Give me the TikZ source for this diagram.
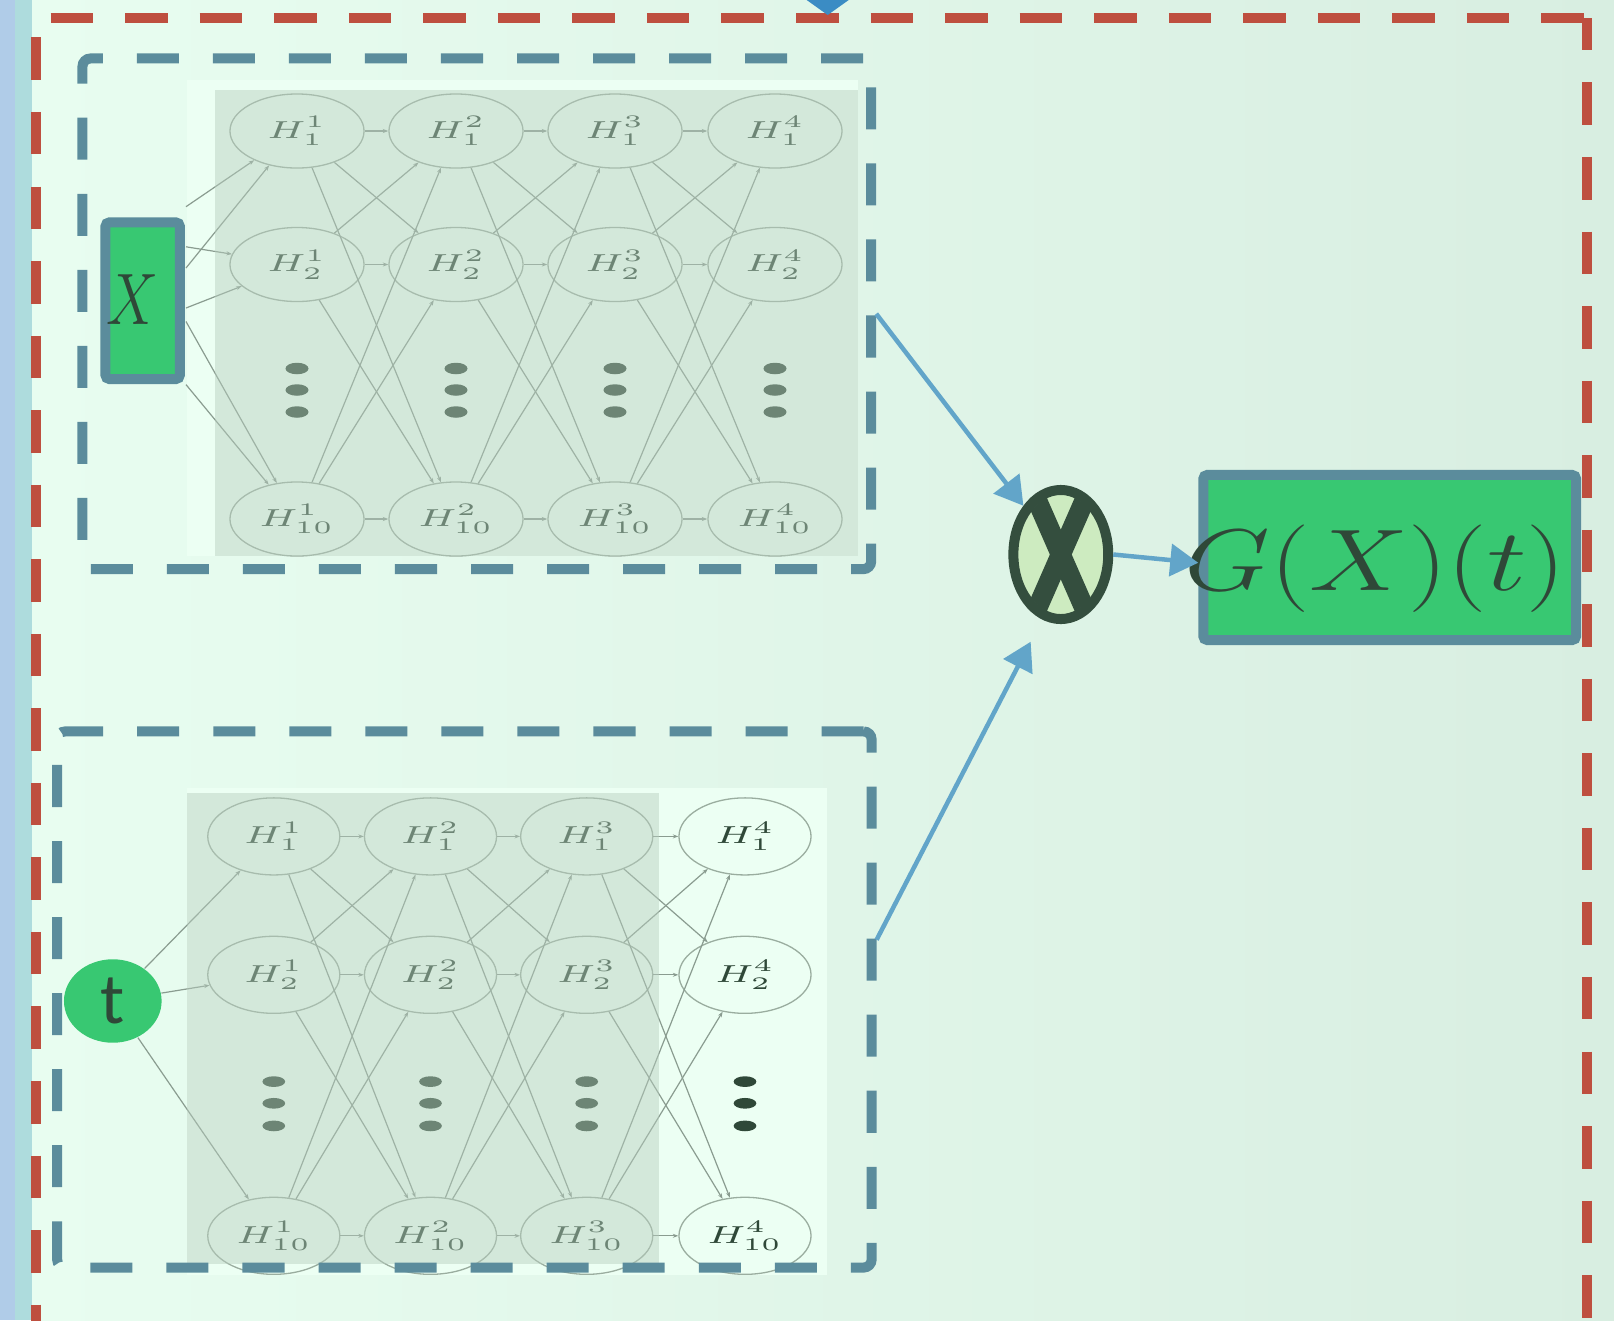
\documentclass[tikz,border=0pt]{standalone}
\usepackage{fontspec}
\newfontfamily\labelsans{Carlito}
\usetikzlibrary{shapes.geometric,arrows.meta,calc}

\definecolor{bgL}{HTML}{E8FDF0}
\definecolor{bgR}{HTML}{D8EEE1}
\definecolor{stripblue}{HTML}{B0CCE8}
\definecolor{stripteal}{HTML}{AEDCDD}
\definecolor{framered}{HTML}{BE4F3F}
\definecolor{boxblue}{HTML}{5B8C9C}
\definecolor{arrowblue}{HTML}{62A5C9}
\definecolor{tipblue}{HTML}{3B8CC4}
\definecolor{leaf}{HTML}{38C872}
\definecolor{ink}{HTML}{2F4838}
\definecolor{netbase}{HTML}{ECFFF3}
\definecolor{netveil}{HTML}{B7CEBE}
\definecolor{netline}{HTML}{8A9C90}
\definecolor{netring}{HTML}{9AAD9F}
\definecolor{multfill}{HTML}{CDEBC0}
\definecolor{multink}{HTML}{344E3E}

% neuron label, widened like the stretched network sketch
\newcommand\hlab[2]{\scalebox{1.55}[1]{$H^{#1}_{#2}$}}

\tikzset{
  neuronA/.style={ellipse, draw=netring, line width=0.13mm, minimum width=13.4mm,
    minimum height=7.4mm, inner sep=0pt, text=ink, font=\fontsize{7pt}{8pt}\selectfont},
  neuronB/.style={neuronA, minimum width=13.2mm, minimum height=7.7mm},
  dotA/.style={ellipse, fill=ink, minimum width=2.3mm, minimum height=1.15mm, inner sep=0pt},
  dotB/.style={dotA, minimum width=2.27mm, minimum height=1.07mm},
  link/.style={draw=netline, line width=0.12mm, -{Stealth[length=0.55mm,width=0.4mm]}},
  groupbox/.style={draw=boxblue, line width=1mm, dash pattern=on 4.2mm off 3.4mm,
    rounded corners=0.8mm, inner sep=0pt},
  redframe/.style={draw=framered, line width=1mm, dash pattern=on 4.25mm off 3.2mm},
  flow/.style={draw=arrowblue, line width=0.45mm, -{Triangle[length=2.8mm,width=3.2mm]}},
  leafbox/.style={draw=boxblue, fill=leaf, line width=1mm, rounded corners=0.4mm, inner sep=0pt},
  veil/.style={fill=netveil, fill opacity=0.46},
}

\begin{document}
\begin{tikzpicture}[x=0.01cm, y=-0.01cm]
\useasboundingbox (0,0) rectangle (1614,1320);
\clip (0,0) rectangle (1614,1320);

% page background and side strips
\shade[left color=bgL, right color=bgR] (32,0) rectangle (1614,1320);
\fill[stripblue] (0,0) rectangle (15,1320);
\fill[stripteal] (15,0) rectangle (32,1320);

% light panels behind the two networks
\fill[netbase] (186.6,80) rectangle (858,556);
\fill[netbase] (186.6,788) rectangle (826.6,1275);

% inputs
\node[leafbox, minimum width=7.43mm, minimum height=15.66mm] (xbox) at (142.65,300.7) {};
\node[text=ink, inner sep=0pt] (xlab) at (133,299.5)
  {\fontsize{20pt}{22pt}\selectfont\scalebox{0.8}[1]{$X$}};
\node[ellipse, fill=leaf, minimum width=9.76mm, minimum height=8.34mm, inner sep=0pt,
  text=ink, font=\labelsans\fontsize{20.5pt}{24pt}\selectfont] (t) at (112.8,1001) {t};

% upper network
\foreach \c/\x in {1/297,2/456,3/615,4/775}{
  \foreach \r/\y in {1/131,2/264.5,10/519}{
    \node[neuronA] (u\c-\r) at (\x,\y) {\hlab{\c}{\r}};
  }
  \foreach \k/\y in {a/368.5,b/390,c/412}{
    \node[dotA] (ud\c\k) at (\x,\y) {};
  }
}
\foreach \c/\n in {1/2,2/3,3/4}{
  \foreach \r in {1,2,10}{
    \foreach \s in {1,2,10}{
      \draw[link] (u\c-\r) -- (u\n-\s);
    }
  }
}
\coordinate (xin1) at (186,206.7);
\coordinate (xin2) at (186,268);
\coordinate (xin3) at (186,246.8);
\coordinate (xin4) at (186,308);
\coordinate (xin5) at (186,321.5);
\coordinate (xin6) at (186,384.6);
\foreach \i/\j in {1/1,2/1,3/2,4/2,5/10,6/10}{
  \draw[link] (xin\i) -- (u1-\j);
}

% lower network
\foreach \c/\x in {1/273.8,2/430.5,3/586.7,4/745}{
  \foreach \r/\y in {1/836.4,2/974.8,10/1235.8}{
    \node[neuronB] (l\c-\r) at (\x,\y) {\hlab{\c}{\r}};
  }
  \foreach \k/\y in {a/1081.6,b/1103.3,c/1125.9}{
    \node[dotB] (ld\c\k) at (\x,\y) {};
  }
}
\foreach \c/\n in {1/2,2/3,3/4}{
  \foreach \r in {1,2,10}{
    \foreach \s in {1,2,10}{
      \draw[link] (l\c-\r) -- (l\n-\s);
    }
  }
}
\foreach \j in {1,2,10}{
  \draw[link] (t) -- (l1-\j);
}

% shaded layers
\fill[veil] (215,90) rectangle (858,556);
\fill[veil] (186.6,793) rectangle (659,1263.5);

% dashed group frames
\node[groupbox, minimum width=78.83mm, minimum height=51.04mm] (upbox) at (476.85,313.8) {};
\node[groupbox, minimum width=81.4mm, minimum height=53.58mm] (lowbox) at (464.4,999.5) {};

% product node
\node[ellipse, draw=multink, fill=multfill, line width=1mm, minimum width=9.48mm,
  minimum height=12.9mm, inner sep=0pt] (mult) at (1060.8,554.5) {};
\begin{scope}
  \clip (mult.center) ellipse [x radius=4.3mm, y radius=6mm];
  \draw[multink, line width=2mm] (1028.8,481.5) -- (1092.8,627.5);
  \draw[multink, line width=2mm] (1092.8,481.5) -- (1028.8,627.5);
\end{scope}

% output
\node[leafbox, minimum width=37.26mm, minimum height=16.5mm] (gbox) at (1389.7,557.5) {};
\node[text=ink, inner sep=0pt] (glab) at (1375,568.8)
  {\fontsize{31.5pt}{34pt}\selectfont\scalebox{1.27}[1]{$G(X)(t)$}};

% flow arrows
\draw[flow] (upbox.east) -- (mult);
\draw[flow, shorten >=2.5mm] ([yshift=17pt]lowbox.east) -- (mult.254);
\draw[flow] (mult.east) -- ([yshift=-1.5pt]gbox.west);

% outer red frame
\draw[redframe, dash phase=5.95mm] (35.6,18.4) -- (1586.7,18.4);
\draw[redframe, dash phase=5.55mm] (35.6,18.4) -- (35.6,1330);
\draw[redframe, dash phase=1.05mm] (1586.7,18.4) -- (1586.7,1330);

% incoming arrow tip at the top edge
\fill[tipblue] (806.7,0) -- (848.7,0) -- (827.7,15) -- cycle;
\end{tikzpicture}
\end{document}
